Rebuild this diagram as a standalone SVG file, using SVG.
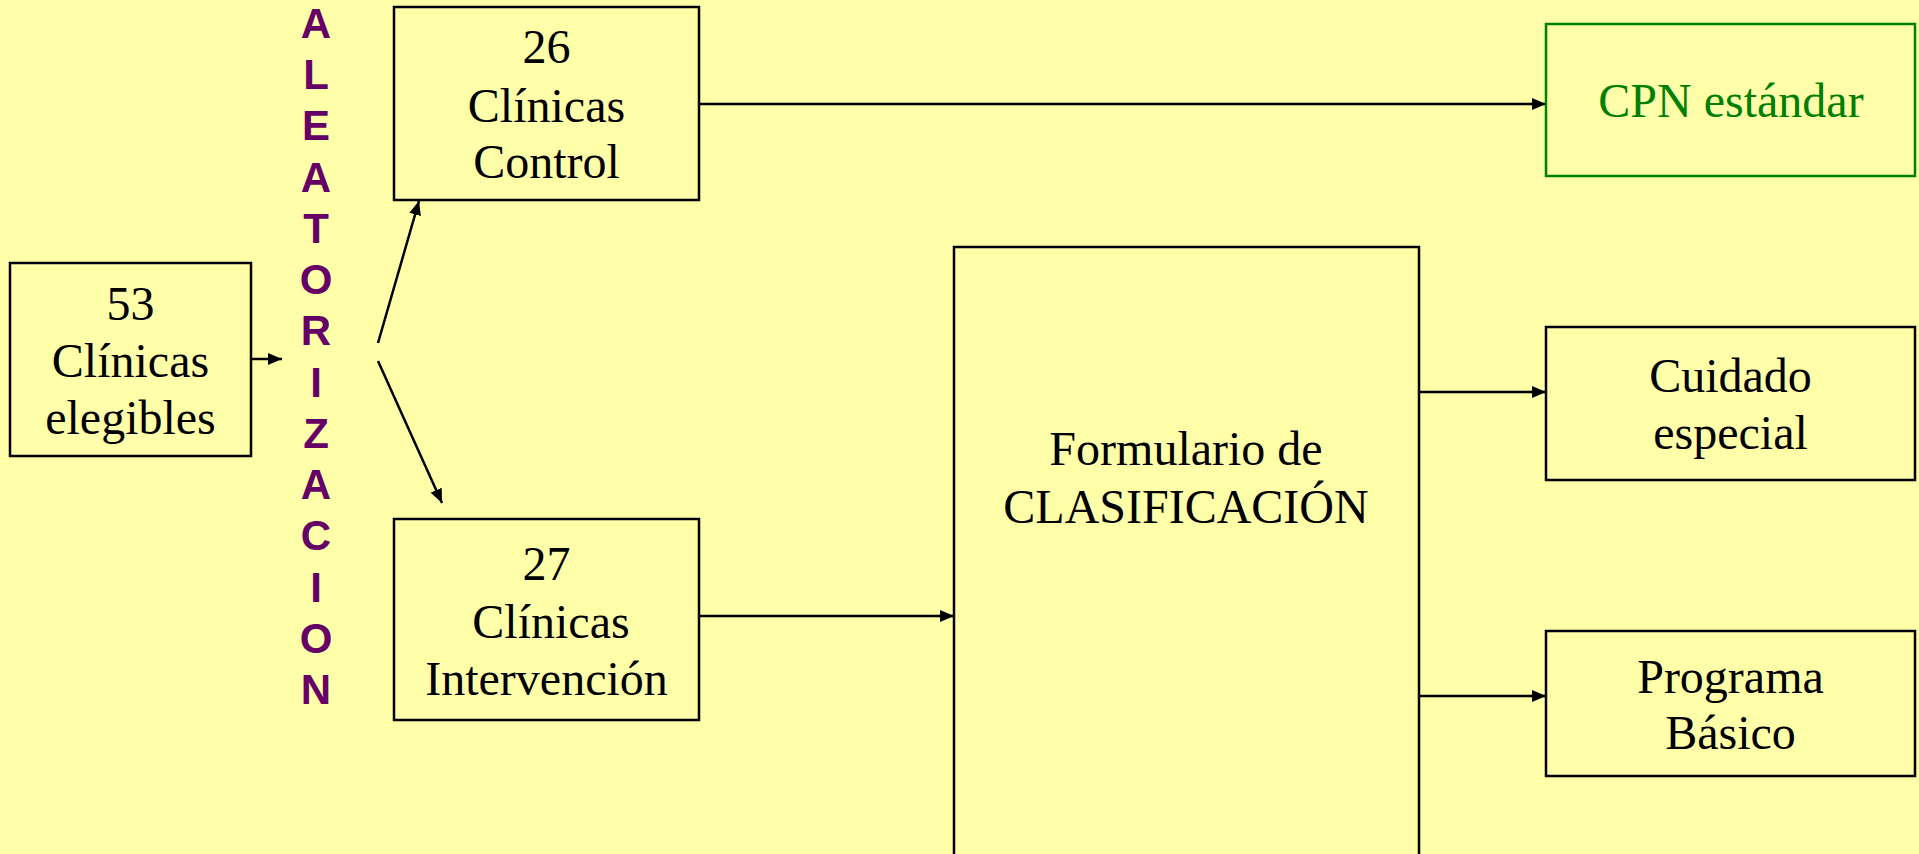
<svg xmlns="http://www.w3.org/2000/svg" width="1919" height="854" viewBox="0 0 1919 854">
<defs>
<style>
.box{fill:#FFFFAA;stroke:#000;stroke-width:2.5}
.gbox{fill:#FFFFAA;stroke:#008000;stroke-width:2.5}
.t{font-family:"Liberation Serif","Times New Roman",serif;font-size:48px;fill:#000;text-anchor:middle}
.g{fill:#008000}
.v{font-family:"Liberation Sans",Arial,sans-serif;font-weight:bold;font-size:42px;fill:#660066;text-anchor:middle}
.c{fill:none;stroke:#000;stroke-width:2.5;marker-end:url(#ah)}
</style>
<marker id="ah" markerUnits="userSpaceOnUse" markerWidth="14" markerHeight="12" viewBox="0 0 14 12" refX="14" refY="6" orient="auto">
<path d="M0,0 L14,6 L0,12 z" fill="#000"/>
</marker>
</defs>
<rect width="1919" height="854" fill="#FFFFAA"/>

<g id="connectors">
<line class="c" x1="251" y1="359" x2="282" y2="359"/>
<line class="c" x1="378" y1="343" x2="419" y2="201"/>
<line class="c" x1="378" y1="361" x2="442" y2="503"/>
<line class="c" x1="699" y1="104" x2="1546" y2="104"/>
<line class="c" x1="699" y1="616" x2="954" y2="616"/>
<line class="c" x1="1419" y1="392" x2="1546" y2="392"/>
<line class="c" x1="1419" y1="696" x2="1546" y2="696"/>
</g>

<g id="eligibles">
<rect class="box" x="10" y="263" width="241" height="193"/>
<text class="t" x="130.5" y="320">53</text>
<text class="t" x="130.5" y="377">Clínicas</text>
<text class="t" x="130.5" y="434">elegibles</text>
</g>

<g id="aleatorizacion">
<text class="v" x="316" y="38">A</text>
<text class="v" x="316" y="89">L</text>
<text class="v" x="316" y="140">E</text>
<text class="v" x="316" y="192">A</text>
<text class="v" x="316" y="243">T</text>
<text class="v" x="316" y="294">O</text>
<text class="v" x="316" y="345">R</text>
<text class="v" x="316" y="397">I</text>
<text class="v" x="316" y="448">Z</text>
<text class="v" x="316" y="499">A</text>
<text class="v" x="316" y="550">C</text>
<text class="v" x="316" y="602">I</text>
<text class="v" x="316" y="653">O</text>
<text class="v" x="316" y="704">N</text>
</g>

<g id="control">
<rect class="box" x="394" y="7" width="305" height="193"/>
<text class="t" x="546.5" y="63">26</text>
<text class="t" x="546.5" y="122">Clínicas</text>
<text class="t" x="546.5" y="178">Control</text>
</g>

<g id="intervencion">
<rect class="box" x="394" y="519" width="305" height="201"/>
<text class="t" x="546.5" y="580">27</text>
<text class="t" x="551" y="638">Clínicas</text>
<text class="t" x="546.5" y="695">Intervención</text>
</g>

<g id="cpn">
<rect class="gbox" x="1546" y="24" width="369" height="152"/>
<text class="t g" x="1731" y="117">CPN estándar</text>
</g>

<g id="formulario">
<rect class="box" x="954" y="247" width="465" height="640"/>
<text class="t" x="1186" y="465">Formulario de</text>
<text class="t" x="1186" y="523">CLASIFICACIÓN</text>
</g>

<g id="cuidado">
<rect class="box" x="1546" y="327" width="369" height="153"/>
<text class="t" x="1730.5" y="392">Cuidado</text>
<text class="t" x="1730.5" y="449">especial</text>
</g>

<g id="programa">
<rect class="box" x="1546" y="631" width="369" height="145"/>
<text class="t" x="1730.5" y="693">Programa</text>
<text class="t" x="1730.5" y="749">Básico</text>
</g>
</svg>
